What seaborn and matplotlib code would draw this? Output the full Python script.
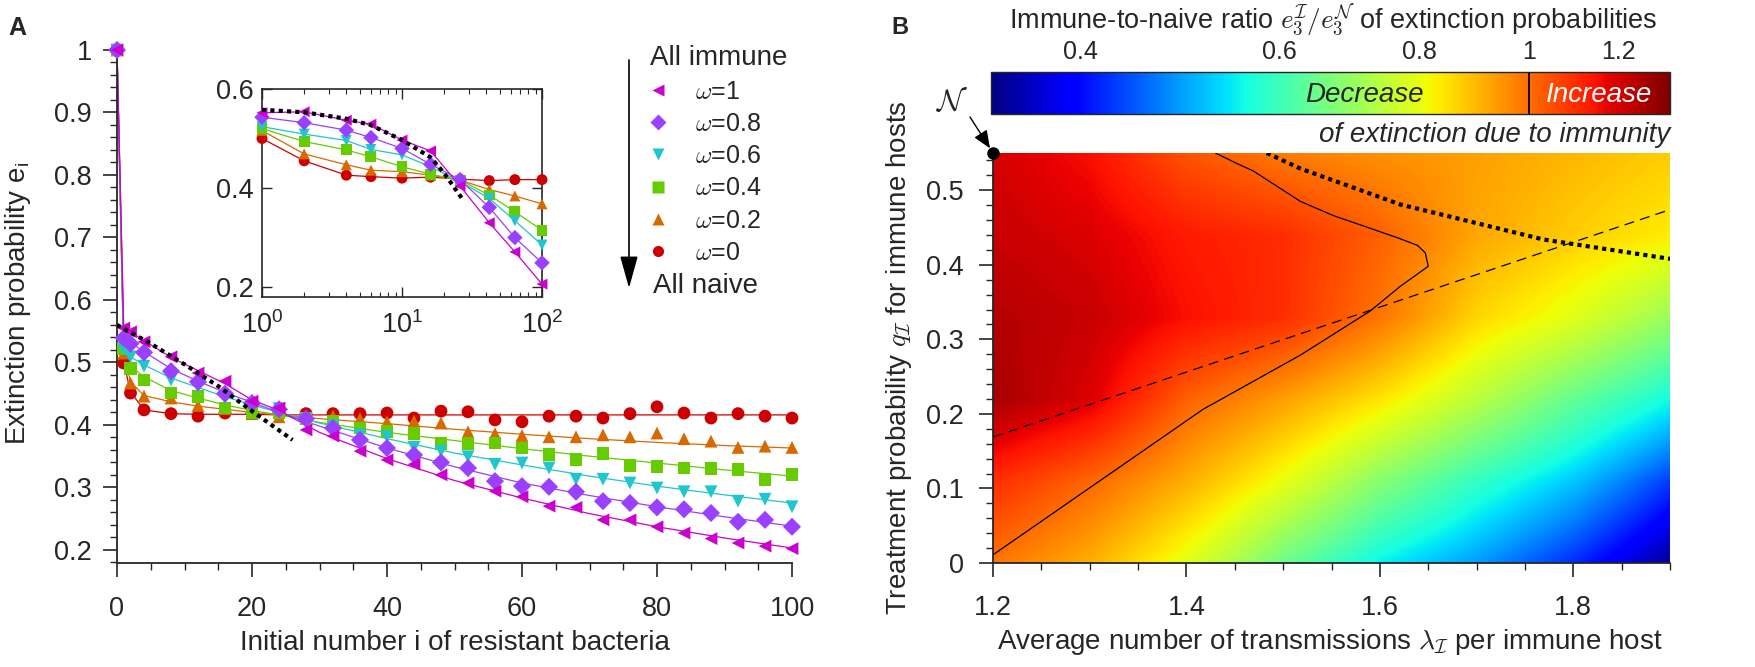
import matplotlib
matplotlib.use("Agg")
import matplotlib.pyplot as plt
import seaborn as sns
from matplotlib.colors import LogNorm
from matplotlib.lines import Line2D
from matplotlib.ticker import MultipleLocator, NullLocator, FixedLocator

sns.set_style("ticks")
plt.rcParams['font.family'] = ['Liberation Sans', 'DejaVu Sans']
plt.rcParams['mathtext.fontset'] = 'cm'

W, H = 1755, 667

# ---------------- Panel A data ----------------
omega_labels = [r'$\omega$=1', r'$\omega$=0.8', r'$\omega$=0.6', r'$\omega$=0.4', r'$\omega$=0.2', r'$\omega$=0']
colors = ['#cc00cc', '#9a40ff', '#1fc6cc', '#66cc00', '#d66a00', '#cc0000']
markers = ['<', 'D', 'v', 's', '^', 'o']

# simulated points
i_pts = [0, 1, 2, 4, 8, 12, 16, 20, 24, 28, 32, 36, 40, 44, 48, 52, 56, 60, 64, 68, 72, 76, 80, 84, 88, 92, 96, 100]
pts_w1 = [1.0, 0.555, 0.549, 0.533, 0.509, 0.483, 0.47, 0.438, 0.427, 0.392, 0.382, 0.358, 0.344, 0.337,
          0.32, 0.307, 0.294, 0.285, 0.27, 0.268, 0.248, 0.248, 0.237, 0.227, 0.218, 0.211, 0.206, 0.202]
pts_w08 = [1.0, 0.539, 0.53, 0.516, 0.486, 0.469, 0.45, 0.435, 0.425, 0.41, 0.395, 0.376, 0.363, 0.352,
           0.34, 0.331, 0.31, 0.302, 0.301, 0.293, 0.278, 0.275, 0.268, 0.265, 0.259, 0.245, 0.248, 0.237]
pts_w06 = [1.0, 0.521, 0.509, 0.494, 0.472, 0.461, 0.443, 0.431, 0.426, 0.41, 0.398, 0.384, 0.381, 0.364,
           0.358, 0.349, 0.337, 0.339, 0.331, 0.313, 0.313, 0.307, 0.299, 0.293, 0.293, 0.278, 0.281, 0.269]
pts_w04 = [1.0, 0.522, 0.49, 0.472, 0.451, 0.445, 0.427, 0.42, 0.419, 0.41, 0.405, 0.395, 0.39, 0.386,
           0.37, 0.37, 0.371, 0.363, 0.352, 0.344, 0.354, 0.335, 0.333, 0.331, 0.33, 0.328, 0.313, 0.32]
pts_w02 = [1.0, 0.515, 0.467, 0.446, 0.443, 0.431, 0.426, 0.418, 0.413, 0.412, 0.414, 0.41, 0.405, 0.406,
           0.403, 0.389, 0.386, 0.383, 0.381, 0.381, 0.384, 0.381, 0.387, 0.378, 0.374, 0.364, 0.366, 0.364]
pts_w0 = [1.0, 0.499, 0.451, 0.424, 0.418, 0.414, 0.419, 0.418, 0.42, 0.418, 0.418, 0.418, 0.419, 0.411,
          0.422, 0.421, 0.408, 0.405, 0.414, 0.414, 0.411, 0.418, 0.429, 0.419, 0.411, 0.418, 0.414, 0.411]

# theory curves
i_line = [0, 1, 2, 4, 8, 12, 16, 20, 24, 30, 40, 50, 60, 70, 80, 90, 100]
line_w1 = [1.0, 0.553, 0.549, 0.535, 0.508, 0.487, 0.466, 0.44, 0.423, 0.388, 0.346, 0.311, 0.283, 0.258, 0.237, 0.219, 0.203]
line_w08 = [1.0, 0.543, 0.532, 0.517, 0.49, 0.47, 0.452, 0.436, 0.42, 0.398, 0.363, 0.333, 0.307, 0.287, 0.269, 0.253, 0.238]
line_w06 = [1.0, 0.524, 0.509, 0.496, 0.475, 0.46, 0.445, 0.432, 0.42, 0.403, 0.378, 0.355, 0.336, 0.318, 0.302, 0.288, 0.275]
line_w04 = [1.0, 0.522, 0.494, 0.477, 0.455, 0.443, 0.432, 0.423, 0.416, 0.404, 0.388, 0.375, 0.362, 0.35, 0.339, 0.328, 0.318]
line_w02 = [1.0, 0.516, 0.469, 0.447, 0.437, 0.43, 0.425, 0.42, 0.416, 0.41, 0.402, 0.393, 0.385, 0.378, 0.372, 0.367, 0.363]
line_w0 = [1.0, 0.50, 0.453, 0.424, 0.418, 0.417, 0.417, 0.417, 0.416, 0.416, 0.416, 0.416, 0.416, 0.416, 0.416, 0.416, 0.416]

# dotted approximation
i_dot = [0, 5, 10, 15, 20, 26]
e_dot = [0.56, 0.53, 0.497, 0.462, 0.422, 0.376]

# inset (log x)
i_in = [1, 2, 4, 6, 10, 16, 26, 42, 64, 100]
in_w1 = [0.552, 0.554, 0.537, 0.529, 0.497, 0.475, 0.404, 0.33, 0.271, 0.206]
in_w08 = [0.543, 0.532, 0.517, 0.502, 0.48, 0.448, 0.417, 0.361, 0.30, 0.249]
in_w06 = [0.524, 0.509, 0.496, 0.478, 0.467, 0.443, 0.413, 0.379, 0.334, 0.285]
in_w04 = [0.52, 0.494, 0.477, 0.463, 0.443, 0.428, 0.416, 0.386, 0.352, 0.315]
in_w02 = [0.516, 0.469, 0.447, 0.436, 0.433, 0.426, 0.416, 0.397, 0.384, 0.368]
in_w0 = [0.50, 0.455, 0.426, 0.423, 0.42, 0.422, 0.418, 0.415, 0.417, 0.417]
i_in_dot = [1, 2, 4, 6, 10, 16, 20, 27]
e_in_dot = [0.558, 0.553, 0.54, 0.527, 0.497, 0.462, 0.43, 0.378]

pts_all = [pts_w1, pts_w08, pts_w06, pts_w04, pts_w02, pts_w0]
lines_all = [line_w1, line_w08, line_w06, line_w04, line_w02, line_w0]
inset_all = [in_w1, in_w08, in_w06, in_w04, in_w02, in_w0]

# ---------------- Panel B data ----------------
lam_nodes = [1.2, 1.3, 1.4, 1.5, 1.6, 1.7, 1.8, 1.9]
q_nodes = [0.0, 0.11, 0.22, 0.33, 0.44, 0.55]
ratio_q000 = [0.99, 0.91, 0.79, 0.65, 0.55, 0.49, 0.42, 0.34]
ratio_q011 = [1.10, 1.01, 0.91, 0.80, 0.68, 0.59, 0.52, 0.43]
ratio_q022 = [1.27, 1.19, 1.02, 0.93, 0.84, 0.74, 0.64, 0.56]
ratio_q033 = [1.25, 1.22, 1.15, 1.10, 0.99, 0.86, 0.79, 0.70]
ratio_q044 = [1.22, 1.19, 1.13, 1.10, 1.02, 0.92, 0.87, 0.83]
ratio_q055 = [1.20, 1.15, 1.04, 0.98, 0.95, 0.93, 0.90, 0.87]
ratio_grid = [ratio_q000, ratio_q011, ratio_q022, ratio_q033, ratio_q044, ratio_q055]

# ratio = 1 contour
cont_lam = [1.2, 1.417, 1.518, 1.59, 1.621, 1.65, 1.647, 1.639, 1.621, 1.59, 1.552, 1.518, 1.469, 1.452, 1.43]
cont_q = [0.011, 0.206, 0.279, 0.338, 0.371, 0.398, 0.416, 0.426, 0.435, 0.449, 0.466, 0.485, 0.526, 0.536, 0.55]
# dotted and dashed lines
dot_lam = [1.483, 1.518, 1.621, 1.769, 1.9]
dot_q = [0.55, 0.529, 0.481, 0.434, 0.408]
dash_lam = [1.2, 1.9]
dash_q = [0.169, 0.474]
naive_lam, naive_q = 1.2, 0.55

cbar_ticks = [0.4, 0.6, 0.8, 1.0, 1.2]
cbar_labels = ['0.4', '0.6', '0.8', '1', '1.2']

# ---------------- figure ----------------
fig = plt.figure(figsize=(W / 100, H / 100), dpi=100)

def fx(px):
    return px / W

def fy(py):
    return 1 - py / H

# Panel A main axes
ax_a = fig.add_axes([fx(117), fy(563), 675 / W, 519 / H])
for e_line, e_pts, c, m in reversed(list(zip(lines_all, pts_all, colors, markers))):
    sns.lineplot(x=i_line, y=e_line, color=c, lw=0.9, ax=ax_a, sort=False, estimator=None)
    sns.scatterplot(x=i_pts, y=e_pts, marker=m, s=85, color=c, edgecolor='none', linewidth=0,
                    ax=ax_a, zorder=3, clip_on=False)
sns.lineplot(x=i_dot, y=e_dot, color='k', lw=3, ls=(0, (1, 1)), ax=ax_a, sort=False, estimator=None, zorder=4)
ax_a.set_xlim(0, 100)
ax_a.set_ylim(0.179, 1.0096)
ax_a.xaxis.set_major_locator(MultipleLocator(20))
ax_a.xaxis.set_minor_locator(MultipleLocator(5))
ax_a.yaxis.set_major_locator(FixedLocator([0.2, 0.3, 0.4, 0.5, 0.6, 0.7, 0.8, 0.9, 1.0]))
ax_a.yaxis.set_minor_locator(MultipleLocator(0.02))
ax_a.set_yticklabels(['0.2', '0.3', '0.4', '0.5', '0.6', '0.7', '0.8', '0.9', '1'])
for s in ['top', 'right']:
    ax_a.spines[s].set_visible(False)
for s in ['left', 'bottom']:
    ax_a.spines[s].set_linewidth(1.3)
ax_a.tick_params(which='major', direction='out', length=10, width=1.2, labelsize=19.5)
ax_a.tick_params(which='minor', direction='out', length=5, width=1.0)
ax_a.tick_params(axis='x', which='major', pad=14)
ax_a.tick_params(axis='y', which='major', pad=8)
ax_a.set_xlabel('Initial number i of resistant bacteria', fontsize=20, va='center')
ax_a.set_ylabel(r'Extinction probability e$_{\mathregular{i}}$', fontsize=20, va='center')
ax_a.xaxis.set_label_coords(0.5, (563 - 643) / 519)
ax_a.yaxis.set_label_coords((18 - 117) / 675, 0.5)

# legend: markers centred at x=658 px, labels starting at x=695 px, rows from y=90 to y=251 px
handles = [Line2D([], [], ls='none', marker=m, color=c, mec='none', ms=8) for m, c in zip(markers, colors)]
leg_fs = 18
leg_fs_px = leg_fs * 100 / 72


def make_legend(x0, y0, pad, spacing):
    return fig.legend(handles, omega_labels, loc='upper left', bbox_to_anchor=(fx(x0), fy(y0)),
                      frameon=False, fontsize=leg_fs, handlelength=1.0, handletextpad=pad,
                      labelspacing=spacing, borderpad=0, borderaxespad=0)


leg_x, leg_y, leg_pad, leg_sp = 646, 81, 1.0, 0.30
leg = make_legend(leg_x, leg_y, leg_pad, leg_sp)
fig.canvas.draw()
rend = fig.canvas.get_renderer()
hext = [h.get_window_extent(rend) for h in leg.legend_handles]
mx = (hext[0].x0 + hext[0].x1) / 2
my_first = H - (hext[0].y0 + hext[0].y1) / 2
my_last = H - (hext[-1].y0 + hext[-1].y1) / 2
tx = leg.get_texts()[0].get_window_extent(rend).x0
leg.remove()
dx = 658 - mx
leg_x += dx
leg_pad += (695 - (tx + dx)) / leg_fs_px
leg_sp += ((251 - 90) - (my_last - my_first)) / 5 / leg_fs_px
leg_y += 90 - my_first
leg = make_legend(leg_x, leg_y, leg_pad, leg_sp)

fig.text(fx(650), fy(58), 'All immune', fontsize=20, va='center', ha='left')
fig.text(fx(653), fy(286), 'All naive', fontsize=20, va='center', ha='left')
ax_a.annotate('', xy=(fx(629), fy(288)), xytext=(fx(629), fy(60)), xycoords='figure fraction',
              textcoords='figure fraction',
              arrowprops=dict(arrowstyle='-|>,head_length=0.9,head_width=0.25', color='k', lw=1.2,
                              mutation_scale=22, shrinkA=0, shrinkB=0))

# inset
ax_in = fig.add_axes([fx(262), fy(297), 280 / W, 208 / H])
for e_in, c, m in reversed(list(zip(inset_all, colors, markers))):
    sns.lineplot(x=i_in, y=e_in, color=c, lw=0.9, ax=ax_in, sort=False, estimator=None)
    sns.scatterplot(x=i_in, y=e_in, marker=m, s=62, color=c, edgecolor='none', linewidth=0,
                    ax=ax_in, zorder=3, clip_on=False)
sns.lineplot(x=i_in_dot, y=e_in_dot, color='k', lw=3, ls=(0, (1, 1)), ax=ax_in, sort=False,
             estimator=None, zorder=4)
ax_in.set_xscale('log')
ax_in.set_xlim(1, 100)
ax_in.set_ylim(0.18, 0.6)
ax_in.yaxis.set_major_locator(FixedLocator([0.2, 0.4, 0.6]))
ax_in.yaxis.set_minor_locator(NullLocator())
for s in ax_in.spines.values():
    s.set_linewidth(1.2)
ax_in.tick_params(which='both', direction='in', top=True, right=True, labelsize=19.5)
ax_in.tick_params(which='major', length=7, width=1.0)
ax_in.tick_params(which='minor', length=3.5, width=0.8)
ax_in.tick_params(axis='x', which='major', pad=10)
ax_in.tick_params(axis='y', which='major', pad=6)

fig.text(fx(8), fy(28), 'A', fontsize=18, fontweight='bold', va='center', ha='left')

# Panel B heatmap
ax_b = fig.add_axes([fx(993), fy(563), 677 / W, 410 / H])
norm = LogNorm(vmin=1 / 3, vmax=4 / 3)
im = ax_b.imshow(ratio_grid, origin='lower', cmap='jet', norm=norm, aspect='auto',
                 interpolation='bilinear', extent=(1.15, 1.95, -0.055, 0.605))
sns.lineplot(x=cont_lam, y=cont_q, color='k', lw=0.9, ax=ax_b, sort=False, estimator=None)
sns.lineplot(x=dash_lam, y=dash_q, color='k', lw=0.9, ls=(0, (8, 5)), ax=ax_b, sort=False, estimator=None)
sns.lineplot(x=dot_lam, y=dot_q, color='k', lw=3, ls=(0, (1, 1)), ax=ax_b, sort=False, estimator=None)
ax_b.plot([naive_lam], [naive_q], 'o', color='k', ms=8, clip_on=False, zorder=5)
ax_b.set_xlim(1.2, 1.9)
ax_b.set_ylim(0, 0.55)
ax_b.xaxis.set_major_locator(FixedLocator([1.2, 1.4, 1.6, 1.8]))
ax_b.xaxis.set_minor_locator(MultipleLocator(0.05))
ax_b.yaxis.set_major_locator(FixedLocator([0, 0.1, 0.2, 0.3, 0.4, 0.5]))
ax_b.yaxis.set_minor_locator(MultipleLocator(0.02))
ax_b.set_yticklabels(['0', '0.1', '0.2', '0.3', '0.4', '0.5'])
ax_b.set_xticklabels(['1.2', '1.4', '1.6', '1.8'])
for s in ['top', 'right']:
    ax_b.spines[s].set_visible(False)
for s in ['left', 'bottom']:
    ax_b.spines[s].set_linewidth(1.3)
ax_b.tick_params(which='major', direction='out', length=10, width=1.2, labelsize=19.5)
ax_b.tick_params(which='minor', direction='out', length=5, width=1.0)
ax_b.tick_params(axis='x', which='major', pad=13)
ax_b.tick_params(axis='y', which='major', pad=11)
ax_b.set_xlabel(r'Average number of transmissions $\lambda_\mathcal{I}$ per immune host', fontsize=20, va='center')
ax_b.set_ylabel(r'Treatment probability $q_\mathcal{I}$ for immune hosts', fontsize=20, va='center')
ax_b.xaxis.set_label_coords(0.498, (563 - 642) / 410)
ax_b.yaxis.set_label_coords((899 - 993) / 677, 0.5)

ax_b.annotate('', xy=(naive_lam, naive_q), xytext=(fx(970), fy(117)), textcoords='figure fraction',
              arrowprops=dict(arrowstyle='-|>,head_length=0.6,head_width=0.25', color='k', lw=1.0,
                              mutation_scale=18, shrinkA=0, shrinkB=4))
fig.text(fx(952), fy(103), r'$\mathcal{N}$', fontsize=22, ha='center', va='center')

# colorbar
cax = fig.add_axes([fx(991), fy(114), 679 / W, 42 / H])
cb = fig.colorbar(im, cax=cax, orientation='horizontal')
cb.outline.set_linewidth(1.0)
cax.xaxis.set_ticks_position('top')
cb.set_ticks(cbar_ticks)
cb.set_ticklabels(cbar_labels)
cax.xaxis.set_minor_locator(NullLocator())
cax.tick_params(axis='x', direction='in', length=7, width=0.8, pad=6, labelsize=18)
cax.axvline(1.0, color='k', lw=1.3)
fig.text(fx(1364), fy(95), 'Decrease', style='italic', fontsize=20, ha='center', va='center')
fig.text(fx(1599), fy(95), 'Increase', style='italic', fontsize=20, ha='center', va='center', color='white')
fig.text(fx(1670), fy(135), 'of extinction due to immunity', style='italic', fontsize=20,
         ha='right', va='center')
fig.text(fx(1333), fy(20), r'Immune-to-naive ratio $e_3^{\mathcal{I}}/e_3^{\mathcal{N}}$ of extinction probabilities',
         fontsize=19.5, ha='center', va='center')
fig.text(fx(891), fy(27), 'B', fontsize=17, fontweight='bold', va='center', ha='left')

fig.savefig('out.png', dpi=100)
